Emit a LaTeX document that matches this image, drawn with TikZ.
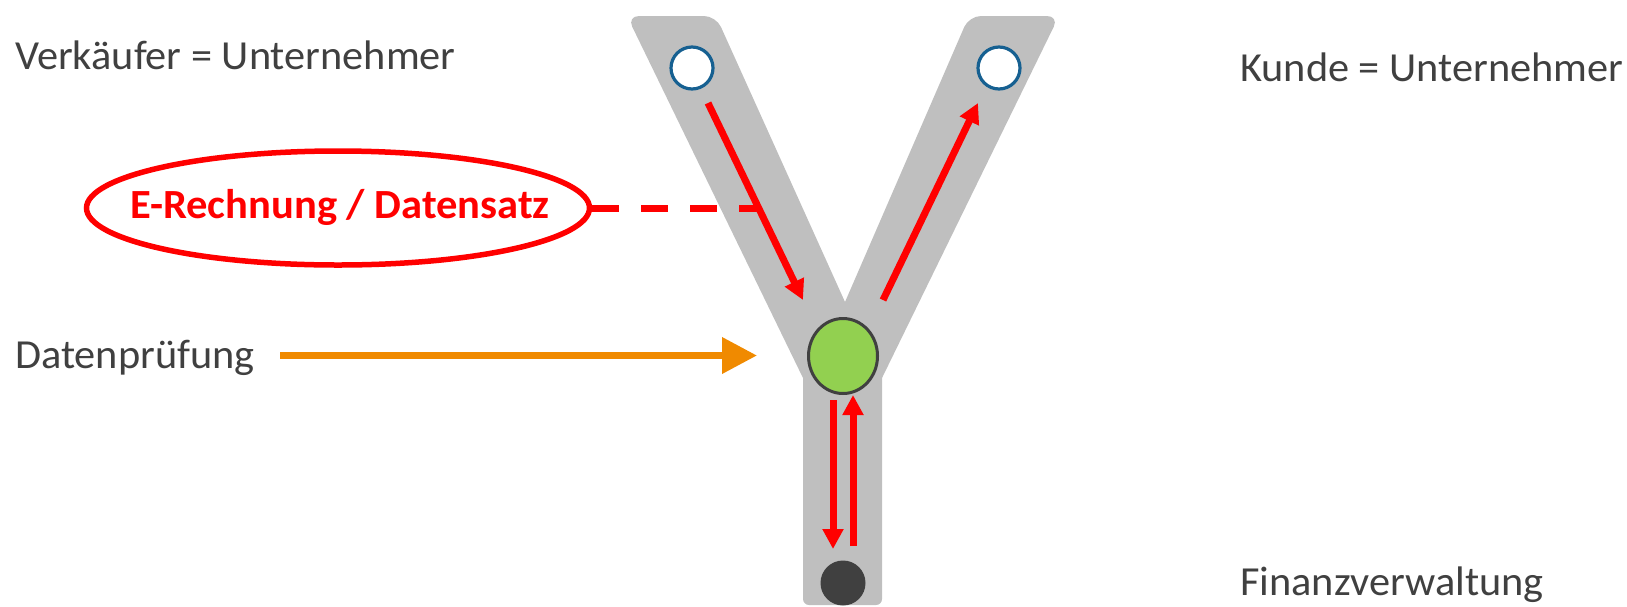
\documentclass[tikz,border=0pt]{standalone}
\usepackage{fontspec}
\setmainfont{Carlito}[FakeStretch=1.025]
\usetikzlibrary{arrows.meta,shapes.geometric}
\definecolor{ygray}{RGB}{191,191,191}
\definecolor{txtgray}{RGB}{64,64,64}
\definecolor{ered}{RGB}{255,0,0}
\definecolor{eorange}{RGB}{240,138,0}
\definecolor{cblue}{RGB}{22,96,145}
\definecolor{cgreen}{RGB}{146,208,80}
\tikzset{
  lbl/.style={anchor=base west, inner sep=0pt, text=txtgray, font=\fontsize{41.3}{46}\selectfont},
  redarrow/.style={draw=ered, line width=7pt, -{Triangle[length=20pt,width=20pt]}},
  endpt/.style={circle, draw=cblue, fill=white, line width=3.2pt, minimum size=42pt, inner sep=0pt},
}
\begin{document}
\begin{tikzpicture}[x=1pt,y=-1pt]
\useasboundingbox (0,0) rectangle (1627,606);
% Y shape
\fill[ygray] (803,378) [rounded corners=12pt] -- (627,16) -- (716,16) [sharp corners] -- (845,302) [rounded corners=12pt] -- (969,16) -- (1059,16) [sharp corners] -- (882,378) [rounded corners=6pt] -- (882,605) -- (803,605) [sharp corners] -- cycle;
% circles
\node[endpt] (seller) at (692,68) {};
\node[endpt] (buyer) at (999,68) {};
\node[ellipse, draw=txtgray, fill=cgreen, line width=3pt, minimum width=69pt, minimum height=75pt, inner sep=0pt] (check) at (843,356) {};
\node[circle, fill=txtgray, minimum size=45pt, inner sep=0pt] (tax) at (843,583) {};
% red flow arrows
\coordinate (a1s) at (708,103);
\coordinate (a1e) at (803,300);
\coordinate (a2s) at (883,300);
\coordinate (a2e) at (978,103);
\coordinate (a3s) at (833,400);
\coordinate (a3e) at (833,549);
\coordinate (a4s) at (853,546);
\coordinate (a4e) at (853,395);
\draw[redarrow] (a1s) -- (a1e);
\draw[redarrow] (a2s) -- (a2e);
\draw[redarrow] (a3s) -- (a3e);
\draw[redarrow] (a4s) -- (a4e);
% E-Rechnung ellipse
\node[ellipse, draw=ered, line width=5.5pt, minimum width=503pt, minimum height=114pt, inner sep=0pt] (erech) at (338,208) {};
\node[inner sep=0pt, text=ered, font=\bfseries\fontsize{41.5}{46}\selectfont, anchor=base] (erechtxt) at (340,218.3) {E-Rechnung / Datensatz};
\coordinate (dashend) at (757,208);
\draw[ered, line width=7pt, dash pattern=on 27pt off 22pt] (erech.east) -- (dashend);
% labels
\node[lbl] (vk) at (15,69.3) {Verkäufer = Unternehmer};
\node[lbl] (ku) at (1240,81.7) {Kunde = Unternehmer};
\node[lbl] (fv) at (1240,595) {Finanzverwaltung};
\node[lbl] (dp) at (15,368.3) {Datenprüfung};
\coordinate (dpe) at (757,355.5);
\coordinate (dps) at (280,355.5);
\draw[eorange, line width=7pt, -{Triangle[length=35pt,width=35pt]}] (dps) -- (dpe);
\end{tikzpicture}
\end{document}
